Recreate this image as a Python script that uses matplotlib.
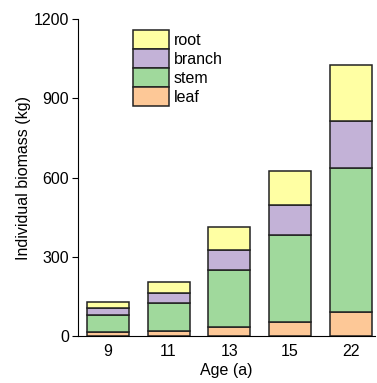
import matplotlib
matplotlib.use('Agg')
import matplotlib.pyplot as plt
import numpy as np

plt.rcParams['font.family'] = ['Liberation Sans', 'DejaVu Sans']

ages = ['9', '11', '13', '15', '22']
leaf = [14, 19, 35, 53, 90]
stem = [66, 105, 215, 329, 547]
branch = [25, 37, 76, 113, 178]
root = [24, 45, 85, 128, 212]

parts = ['leaf', 'stem', 'branch', 'root']
series = [leaf, stem, branch, root]
colors = ['#FDC897', '#A0D99C', '#C3B2D7', '#FFFFA3']

fig = plt.figure(figsize=(3.77, 3.83), dpi=100)
ax = fig.add_axes([0.207, 0.123, 0.788, 0.827])

x = np.arange(len(ages))
bottom = np.zeros(len(ages))
handles = []
for name, vals, col in zip(parts, series, colors):
    b = ax.bar(x, vals, width=0.69, bottom=bottom, color=col,
               edgecolor='#222222', linewidth=1.1, label=name)
    handles.append(b)
    bottom += np.array(vals)

ax.set_xlim(-0.49, 4.4)
ax.set_ylim(0, 1200)
ax.set_yticks([0, 300, 600, 900, 1200])
ax.set_xticks(x)
ax.set_xticklabels(ages)
ax.tick_params(axis='x', length=0, pad=6, labelsize=11.5)
ax.tick_params(axis='y', direction='out', length=4, pad=2.5, labelsize=11.5)
ax.spines['top'].set_visible(False)
ax.spines['right'].set_visible(False)

ax.set_xlabel('Age (a)', fontsize=11.5, labelpad=3)
ax.set_ylabel('Individual biomass (kg)', fontsize=11.5, labelpad=2)

ax.legend(handles[::-1], parts[::-1], loc='upper left',
          bbox_to_anchor=(0.185, 0.965), frameon=False, fontsize=11.5,
          handlelength=2.25, handleheight=1.42, labelspacing=0.02,
          handletextpad=0.3, borderpad=0, borderaxespad=0)

fig.savefig('out.png', dpi=100)
